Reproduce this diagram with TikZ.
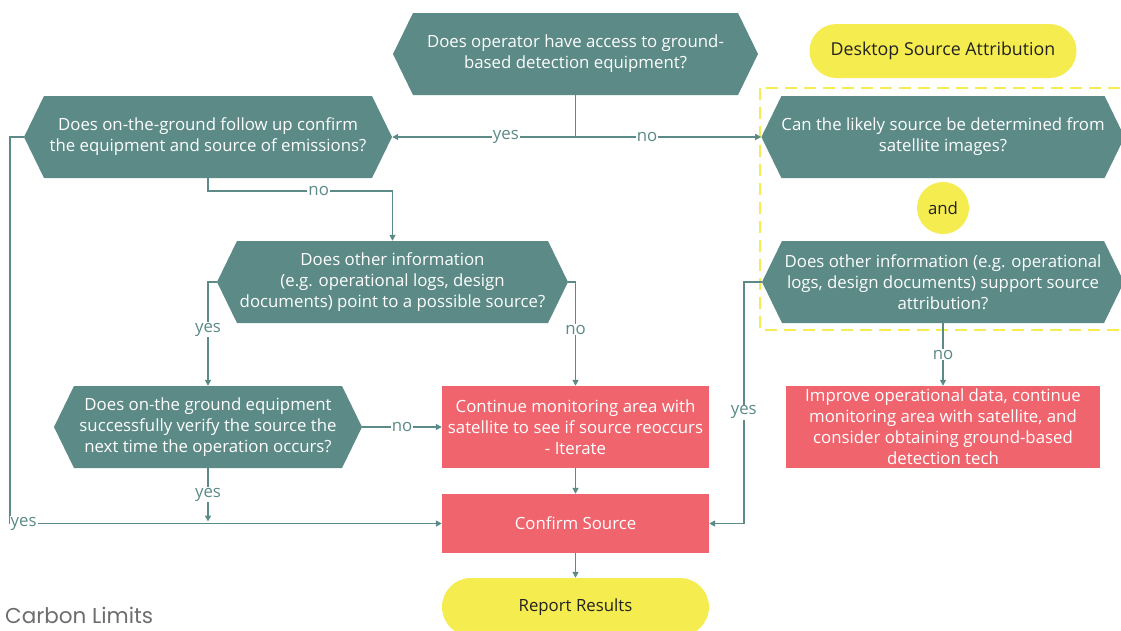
\documentclass[tikz,border=0pt]{standalone}
\usepackage{fontspec}
\setmainfont{Open Sans}
\newfontfamily\clfont{Poppins}
\usetikzlibrary{arrows.meta,shapes.symbols,shapes.misc,calc}
\definecolor{teal1}{HTML}{5B8A87}
\definecolor{red1}{HTML}{F0646E}
\definecolor{yel1}{HTML}{F5EC50}
\definecolor{dark1}{HTML}{222222}
\definecolor{gray1}{HTML}{6D6D6D}
\begin{document}
\begin{tikzpicture}[x=1pt,y=-1pt,
  txt/.style={font=\fontsize{16.8}{21}\selectfont},
  hexq/.style={txt, shape=signal, signal to=east and west, signal pointer angle=128,
    fill=teal1, text=white, minimum height=82pt, inner sep=0pt, align=center},
  redbox/.style={txt, rectangle, fill=red1, text=white, inner sep=0pt, align=center},
  yelpill/.style={txt, rounded rectangle, fill=yel1, text=dark1, inner sep=0pt, align=center},
  conn/.style={draw=teal1, line width=1.6pt},
  arr/.style={conn, -{Triangle[length=6pt,width=6pt]}},
  lbl/.style={txt, text=teal1, fill=white, inner sep=1pt}
]
\useasboundingbox (0,0) rectangle (1121,630);

% dashed group
\draw[yel1, line width=2pt, dash pattern=on 12pt off 7pt] (760,88) rectangle (1135,330);

% nodes
\node[hexq, minimum width=365pt] (hA) at (575.5,54) {Does operator have access to ground-\\based detection equipment?};
\node[hexq, minimum width=368pt] (hB) at (208,137) {Does on-the-ground follow up confirm\\the equipment and source of emissions?};
\node[hexq, minimum width=362pt] (hC) at (943,137) {Can the likely source be determined from\\satellite images?};
\node[hexq, minimum width=351pt] (hD) at (392.5,282) {Does other information\\(e.g. operational logs, design\\documents) point to a possible source?};
\node[hexq, minimum width=362pt] (hF) at (943,282) {Does other information (e.g. operational\\logs, design documents) support source\\attribution?};
\node[hexq, minimum width=308pt] (hE) at (208,427) {Does on-the ground equipment\\successfully verify the source the\\next time the operation occurs?};

\node[redbox, minimum width=267pt, minimum height=82pt] (ct) at (575.5,427) {Continue monitoring area with\\satellite to see if source reoccurs\\- Iterate};
\node[redbox, minimum width=267pt, minimum height=59pt] (cs) at (575.5,523.5) {Confirm Source};
\node[redbox, minimum width=314pt, minimum height=82pt] (im) at (943,427) {Improve operational data, continue\\monitoring area with satellite, and\\consider obtaining ground-based\\detection tech};

\node[yelpill, minimum width=267pt, minimum height=54pt, font=\fontsize{17.8}{21}\selectfont] (ds) at (943,51) {Desktop Source Attribution};
\node[txt, circle, fill=yel1, text=dark1, minimum size=52pt, inner sep=0pt] (and) at (943,208) {and};
\node[yelpill, minimum width=267pt, minimum height=58pt] (rr) at (575.5,607) {Report Results};

\node[anchor=west, inner sep=0pt, text=gray1, font=\clfont\fontsize{21.5}{24}\selectfont] (cl) at (5,615) {Carbon Limits};

% connectors
\coordinate (j1) at (hA.south |- hB.east);
\draw[conn] (hA.south) -- (j1);
\draw[arr] (j1) -- node[lbl, pos=0.38] {yes} (hB.east);
\draw[arr] (j1) -- node[lbl, pos=0.385] {no} (hC.west);

\draw[arr] (hB.south) -- ++(0,13) -| node[lbl, pos=0.3] {no} (hD.north);
\draw[arr] (hB.west) -- ++(-14,0) |- node[lbl, pos=0.516] {yes} (cs.west);

\draw[arr] (hD.west) -| node[lbl, pos=0.73] {yes} (hE.north);
\draw[arr] (hD.east) -| node[lbl, pos=0.73] {no} (ct.north);

\draw[arr] (hE.east) -- node[lbl] {no} (ct.west);
\coordinate (j2) at (hE.south |- cs.west);
\draw[arr] (hE.south) -- node[lbl] {yes} ($(j2)+(0,-2)$);

\draw[arr] (ct.south) -- (cs.north);
\draw[arr] (cs.south) -- (rr.north);

\draw[arr] (hF.west) -- ++(-18,0) |- node[lbl, pos=0.27] {yes} (cs.east);
\draw[arr] (hF.south) -- node[lbl] {no} (im.north);
\end{tikzpicture}
\end{document}
